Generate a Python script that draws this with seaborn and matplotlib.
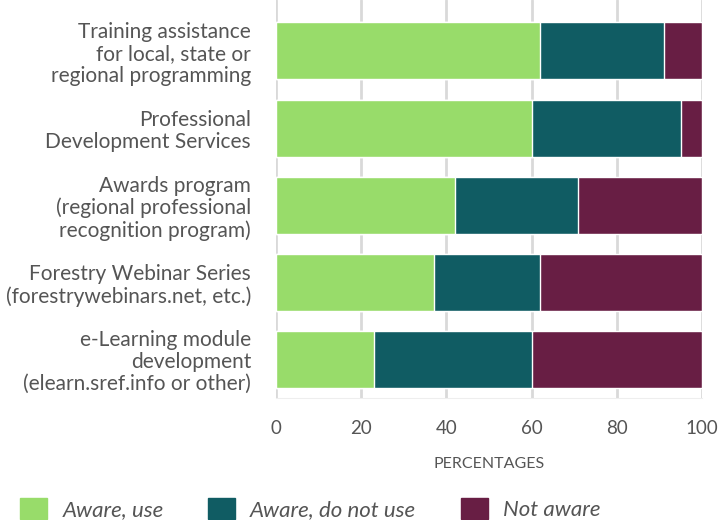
import seaborn as sns
import matplotlib.pyplot as plt
import pandas as pd
from matplotlib.patches import Patch

# Survey values (percent of respondents)
services = ['Training assistance\nfor local, state or\nregional programming',
            'Professional\nDevelopment Services',
            'Awards program\n(regional professional\nrecognition program)',
            'Forestry Webinar Series\n(forestrywebinars.net, etc.)',
            'e-Learning module\ndevelopment\n(elearn.sref.info or other)']
aware_use = [62, 60, 42, 37, 23]
aware_not_use = [29, 35, 29, 25, 37]
not_aware = [9, 5, 29, 38, 40]

series_names = ['Aware, use', 'Aware, do not use', 'Not aware']
colors = ['#98dc6a', '#105c63', '#681e44']

df = pd.DataFrame({'service': services, 'use': aware_use,
                   'no_use': aware_not_use, 'not_aware': not_aware})
# running totals so the bars can be layered into a stack
df['total'] = df['use'] + df['no_use'] + df['not_aware']
df['aware'] = df['use'] + df['no_use']

sns.set_style('white')
plt.rcParams['font.family'] = ['Lato', 'DejaVu Sans']
text_col = '#555555'

fig = plt.figure(figsize=(7.19, 5.2), dpi=100)
ax = fig.add_axes([276 / 719, 1 - 398 / 520, 426 / 719, 398 / 520])

for col, c in zip(['total', 'aware', 'use'], colors[::-1]):
    sns.barplot(data=df, x=col, y='service', color=c, width=0.74,
                saturation=1, ax=ax, zorder=3)

ax.set_xlim(0, 100)
ax.set_ylim(4.5, -0.66)
ax.set_xticks([0, 20, 40, 60, 80, 100])
ax.grid(axis='x', color='#d9d9d9', linewidth=2, zorder=0)
for s in ['top', 'right', 'left']:
    ax.spines[s].set_visible(False)
ax.spines['bottom'].set_color('#eeeeee')
ax.tick_params(axis='x', length=0, labelsize=13.5, labelcolor=text_col, pad=16)
ax.tick_params(axis='y', length=0, labelsize=15, labelcolor=text_col, pad=18)
for lab in ax.get_yticklabels():
    lab.set_linespacing(1.12)
ax.set_ylabel('')
ax.set_xlabel('PERCENTAGES', fontsize=11.5, color=text_col, labelpad=14)

handles = [Patch(color=c, label=n) for c, n in zip(colors, series_names)]
fig.legend(handles=handles, loc='lower left', bbox_to_anchor=(20 / 719, 0),
           ncol=3, frameon=False, borderpad=0, borderaxespad=0,
           handlelength=1.22, handleheight=1.13,
           handletextpad=0.68, columnspacing=2.0,
           prop={'style': 'italic', 'size': 16}, labelcolor=text_col)

fig.savefig('out.png', dpi=100)
